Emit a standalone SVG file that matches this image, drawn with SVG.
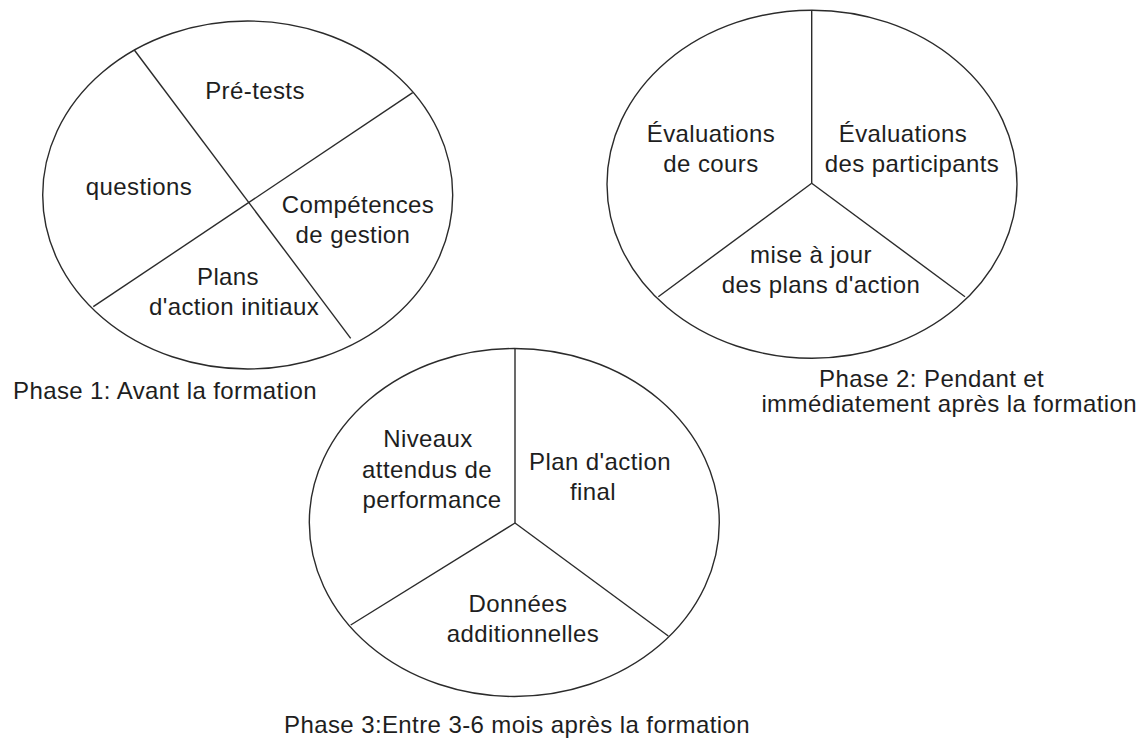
<svg xmlns="http://www.w3.org/2000/svg" width="1140" height="740" viewBox="0 0 1140 740">
  <style>
    .pie { fill: none; stroke: #2b2b2b; stroke-width: 1.4; }
    .div { stroke: #2b2b2b; stroke-width: 1.4; fill: none; }
    text { font-family: "Liberation Sans", Arial, sans-serif; font-size: 24px; fill: #1e1e1e; letter-spacing: 0.4px; }
    .c { text-anchor: middle; }
  </style>
  <rect width="1140" height="740" fill="#ffffff"/>

  <!-- Phase 1 -->
  <g id="phase1">
    <ellipse class="pie" cx="247.7" cy="195" rx="205" ry="174"/>
    <text class="c" x="255" y="99">Pré-tests</text>
    <text class="c" x="139" y="195">questions</text>
    <text class="c" x="358" y="213">Compétences</text>
    <text class="c" x="353" y="243">de gestion</text>
    <text class="c" x="228" y="285">Plans</text>
    <text class="c" x="234" y="315">d'action initiaux</text>
    <text x="13" y="399">Phase 1: Avant la formation</text>
  </g>

  <!-- Phase 2 -->
  <g id="phase2">
    <ellipse class="pie" cx="812" cy="184.2" rx="205" ry="174"/>
    <text class="c" x="711" y="142">Évaluations</text>
    <text class="c" x="711" y="172">de cours</text>
    <text class="c" x="903" y="142">Évaluations</text>
    <text class="c" x="912" y="172">des participants</text>
    <text class="c" x="811" y="263">mise à jour</text>
    <text class="c" x="821" y="293">des plans d'action</text>
    <text x="819" y="387">Phase 2: Pendant et</text>
    <text x="1137" y="412" text-anchor="end">immédiatement après la formation</text>
  </g>

  <!-- Phase 3 -->
  <g id="phase3">
    <ellipse class="pie" cx="514.3" cy="522.5" rx="205" ry="174"/>
    <text class="c" x="428" y="447">Niveaux</text>
    <text class="c" x="427" y="478">attendus de</text>
    <text class="c" x="432" y="508">performance</text>
    <text class="c" x="600" y="470">Plan d'action</text>
    <text class="c" x="593" y="500">final</text>
    <text class="c" x="518" y="612">Données</text>
    <text class="c" x="523" y="642">additionnelles</text>
    <text x="750" y="733" text-anchor="end">Phase 3:Entre 3-6 mois après la formation</text>
  </g>

  <!-- segment dividers -->
  <g id="connectors">
    <line class="div" x1="134.3" y1="50" x2="350.7" y2="338.3"/>
    <line class="div" x1="412.7" y1="92.7" x2="93.3" y2="306.7"/>
    <line class="div" x1="811.7" y1="10" x2="811.7" y2="183.3"/>
    <line class="div" x1="811.7" y1="183.3" x2="658.3" y2="296.7"/>
    <line class="div" x1="811.7" y1="183.3" x2="965" y2="296.7"/>
    <line class="div" x1="515" y1="348.5" x2="515" y2="523"/>
    <line class="div" x1="515" y1="523" x2="350.7" y2="625"/>
    <line class="div" x1="515" y1="523" x2="668.3" y2="636"/>
  </g>
</svg>
